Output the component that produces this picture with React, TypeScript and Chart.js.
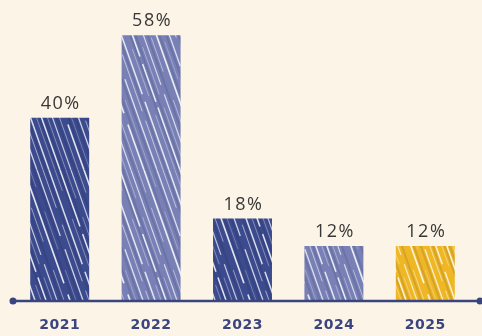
import React, { useEffect, useRef } from "react";
import { Chart, registerables } from "chart.js";

Chart.register(...registerables);

const years = ["2021", "2022", "2023", "2024", "2025"];
const shares = [40, 58, 18, 12, 12];
const barColors = ["#3c4a8e", "#7880b6", "#3c4a8e", "#7880b6", "#efb726"];

const BG = "#fcf4e6";
const AXIS = "#3a4580";

// Pencil-like hatching: colour fill crossed by steep, broken light streaks.
// The tile is 60 wide and each streak drifts exactly 60 over the tile's
// height, so the pattern repeats without seams.
const TILE_W = 60;
const TILE_H = 170;
const streakOffsets = [0, 6, 11, 18, 24, 30, 37, 43, 49, 55];
const streakAlphas = [0.85, 0.4, 0.7, 0.5, 0.85, 0.35, 0.75, 0.55, 0.8, 0.4];
const streakWidths = [1.5, 0.9, 1.2, 0.9, 1.6, 0.8, 1.3, 1.0, 1.5, 0.9];
const streakDashes = [
  [60, 8, 40, 6, 66],
  [30, 20, 50, 14, 66],
  [90, 10, 80],
  [24, 16, 36, 30, 74],
  [120, 12, 48],
  [18, 26, 40, 22, 74],
  [70, 14, 96],
  [40, 18, 60, 10, 52],
  [100, 8, 72],
  [22, 30, 50, 20, 58],
];
const shadeOffsets = [3, 15, 27, 34, 46, 58];

function hatch(color: string): CanvasPattern | string {
  const c = document.createElement("canvas");
  c.width = TILE_W;
  c.height = TILE_H;
  const g = c.getContext("2d");
  if (!g) return color;
  g.fillStyle = color;
  g.fillRect(0, 0, TILE_W, TILE_H);
  // darker pencil strokes
  g.strokeStyle = "rgba(20,25,60,0.12)";
  g.lineWidth = 2;
  for (const o of shadeOffsets) {
    for (const shift of [-TILE_W, 0, TILE_W]) {
      g.beginPath();
      g.moveTo(o + shift, 0);
      g.lineTo(o + shift + TILE_W, TILE_H);
      g.stroke();
    }
  }
  // light streaks
  streakOffsets.forEach((o, k) => {
    g.strokeStyle = `rgba(255,255,255,${streakAlphas[k]})`;
    g.lineWidth = streakWidths[k];
    g.setLineDash(streakDashes[k]);
    for (const shift of [-TILE_W, 0, TILE_W]) {
      g.beginPath();
      g.moveTo(o + shift, 0);
      g.lineTo(o + shift + TILE_W, TILE_H);
      g.stroke();
    }
  });
  g.setLineDash([]);
  const pat = g.createPattern(c, "repeat");
  return pat || color;
}

const decor = {
  id: "decor",
  beforeDraw(chart: any) {
    const { ctx, width, height } = chart;
    ctx.save();
    ctx.fillStyle = BG;
    ctx.fillRect(0, 0, width, height);
    ctx.restore();
  },
  afterDatasetsDraw(chart: any) {
    const { ctx, chartArea } = chart;
    const x = chart.scales.x;
    const meta = chart.getDatasetMeta(0);
    ctx.save();
    // baseline with end dots
    const y0 = chartArea.bottom;
    ctx.strokeStyle = AXIS;
    ctx.lineWidth = 2.5;
    ctx.beginPath();
    ctx.moveTo(13, y0);
    ctx.lineTo(chart.width - 2, y0);
    ctx.stroke();
    ctx.fillStyle = AXIS;
    for (const px of [13, chart.width - 2]) {
      ctx.beginPath();
      ctx.arc(px, y0, 3.5, 0, Math.PI * 2);
      ctx.fill();
    }
    // value labels
    ctx.fillStyle = "#383838";
    ctx.font = "18px 'Open Sans', sans-serif";
    (ctx as any).letterSpacing = "1.5px";
    ctx.textAlign = "center";
    ctx.textBaseline = "middle";
    meta.data.forEach((bar: any, i: number) => {
      ctx.fillText(`${shares[i]}%`, bar.x + 1, bar.y - 14);
    });
    // year labels
    ctx.fillStyle = AXIS;
    ctx.font = "bold 14px 'DejaVu Sans', sans-serif";
    (ctx as any).letterSpacing = "0.5px";
    years.forEach((yr, i) => {
      ctx.fillText(yr, x.getPixelForValue(i), y0 + 24);
    });
    ctx.restore();
  },
};

export default function App() {
  const ref = useRef<HTMLCanvasElement | null>(null);

  useEffect(() => {
    if (!ref.current) return;
    const chart = new Chart(ref.current, {
      type: "bar",
      data: {
        labels: years,
        datasets: [
          {
            data: shares,
            backgroundColor: barColors.map(hatch) as any,
            borderWidth: 0,
            barPercentage: 0.645,
            categoryPercentage: 1,
          },
        ],
      },
      options: {
        animation: false,
        responsive: false,
        layout: { padding: { left: 14, right: 11, top: 26, bottom: 35 } },
        plugins: { legend: { display: false }, tooltip: { enabled: false } },
        scales: {
          x: { display: false },
          y: { display: false, min: 0, max: 60 },
        },
      },
      plugins: [decor],
    });
    return () => chart.destroy();
  }, []);

  return (
    <div style={{ position: "fixed", left: 0, top: 0, width: 482, height: 336, background: BG }}>
      <canvas ref={ref} width={482} height={336} />
    </div>
  );
}
